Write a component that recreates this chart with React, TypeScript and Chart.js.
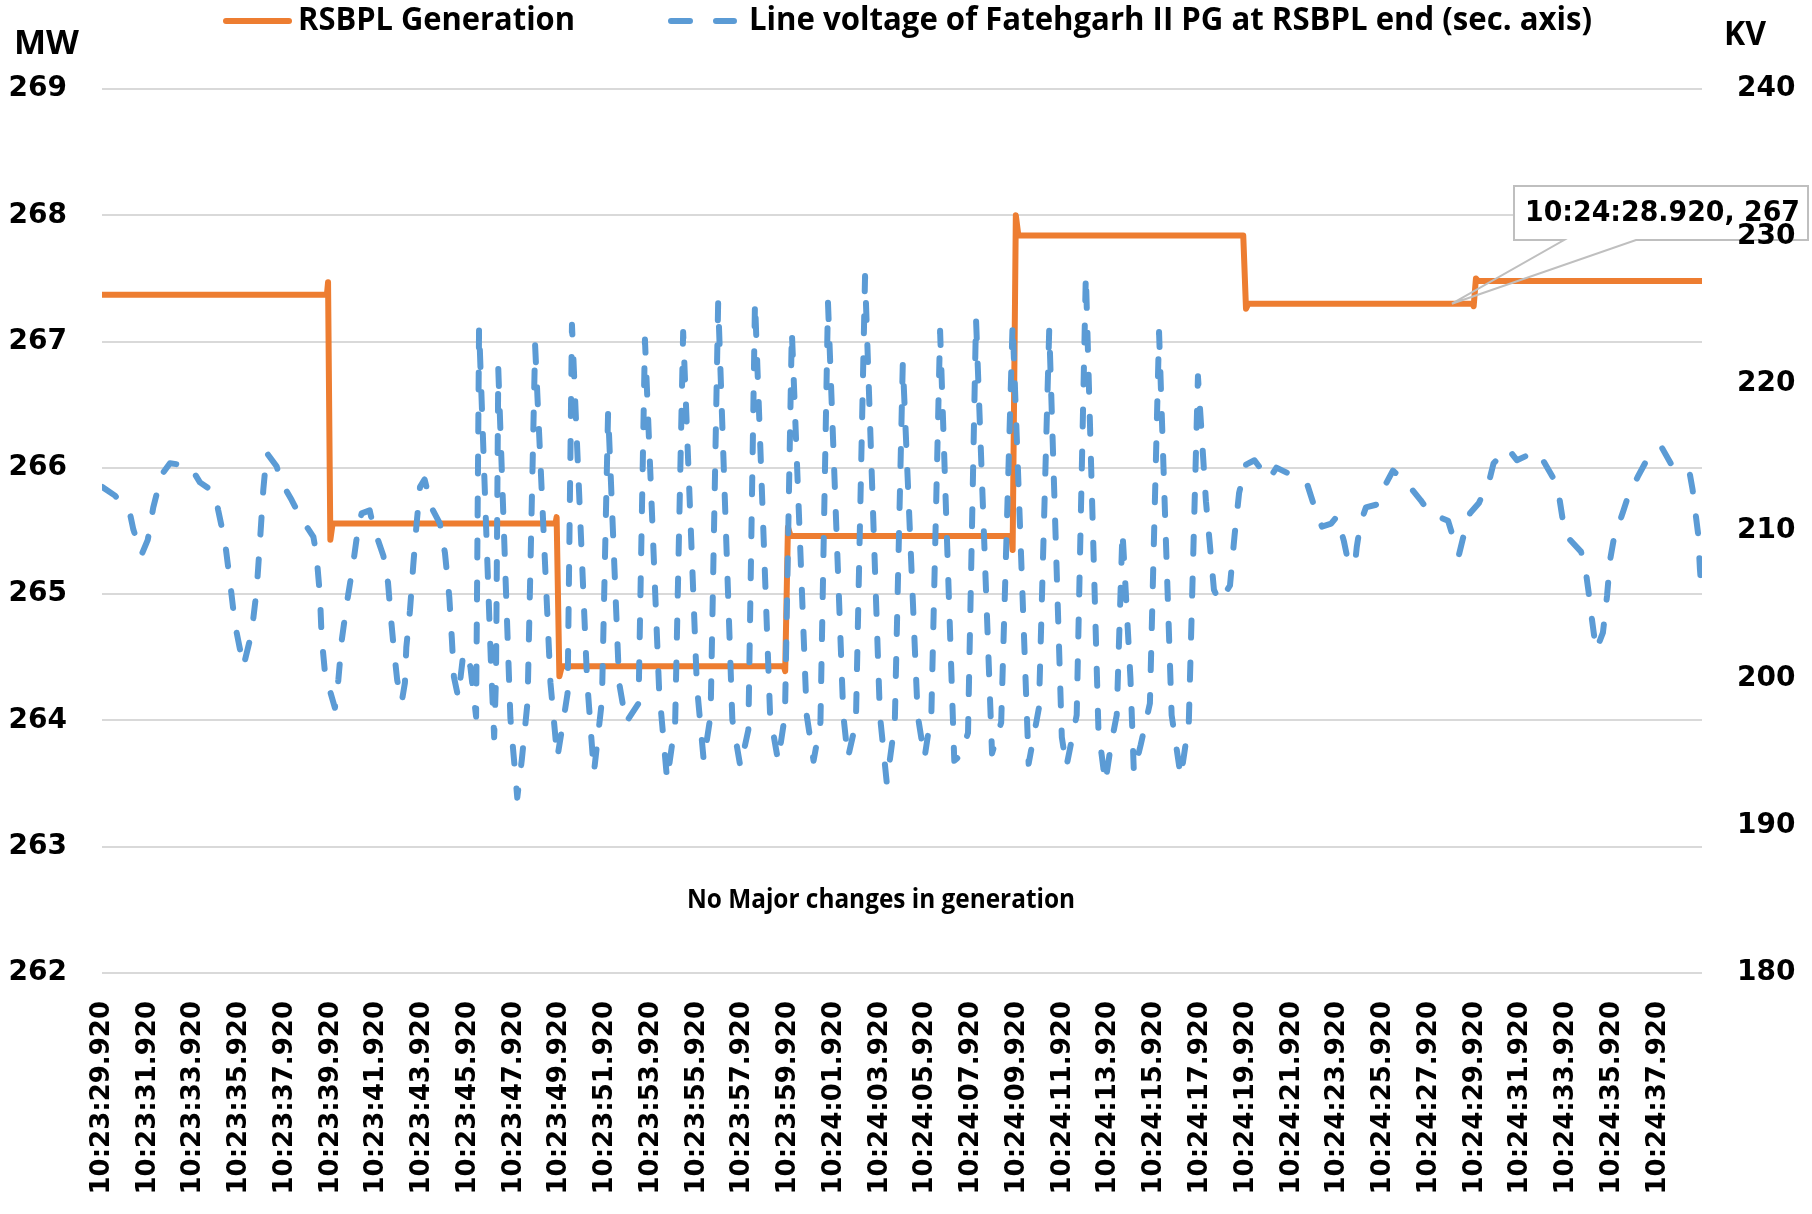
import React, { useEffect, useRef } from "react";
import { Chart, registerables } from "chart.js";

Chart.register(...registerables);

// ---------- data ----------
const xTickLabels = [
  "10:23:29.920", "10:23:31.920", "10:23:33.920", "10:23:35.920", "10:23:37.920",
  "10:23:39.920", "10:23:41.920", "10:23:43.920", "10:23:45.920", "10:23:47.920",
  "10:23:49.920", "10:23:51.920", "10:23:53.920", "10:23:55.920", "10:23:57.920",
  "10:23:59.920", "10:24:01.920", "10:24:03.920", "10:24:05.920", "10:24:07.920",
  "10:24:09.920", "10:24:11.920", "10:24:13.920", "10:24:15.920", "10:24:17.920",
  "10:24:19.920", "10:24:21.920", "10:24:23.920", "10:24:25.920", "10:24:27.920",
  "10:24:29.920", "10:24:31.920", "10:24:33.920", "10:24:35.920", "10:24:37.920",
];

// seconds after 10:23:29.920
const generationTimes = [
  0, 9.83, 9.88, 9.98, 10.08, 19.82, 19.87, 19.99, 20.1, 29.8, 29.86, 29.98, 30.1,
  39.75, 39.8, 39.94, 40.05, 49.88, 50.0, 50.1, 59.9, 59.95, 60.05, 60.15, 69.93,
];
const generationValues = [
  267.37, 267.37, 267.47, 265.43, 265.56, 265.56, 265.61, 264.35, 264.43, 264.43, 264.39, 265.53, 265.46,
  265.46, 265.35, 268.0, 267.84, 267.84, 267.26, 267.3, 267.3, 267.28, 267.5, 267.48, 267.48,
];

const voltageTimes = [
  0, 0.57, 1.22, 1.37, 1.73, 2.0, 2.24, 2.6, 2.97, 3.85, 4.28, 4.94, 5.08, 5.38, 5.6, 5.81, 6.18, 6.54, 6.76, 6.9,
  7.05, 7.2, 7.63, 7.85, 8.29, 8.65, 9.24, 9.38, 9.53, 9.6, 9.75, 10.18, 10.33, 10.48, 10.7, 10.98, 11.2, 11.35, 11.7, 11.86,
  12.3, 12.5, 12.6, 12.73, 12.9, 13.1, 13.24, 13.3, 13.46, 13.6, 13.75, 13.9, 14.1, 14.4, 14.77, 14.99, 15.18, 15.29, 15.38, 15.57,
  15.8, 16.1, 16.35, 16.48, 17.0, 17.14, 17.22, 17.32, 17.85, 18.15, 18.35, 18.6, 18.93, 19.6, 19.9, 20.2, 20.35, 20.54,
  21.2, 21.5, 21.85, 22.12, 22.6, 22.9, 23.45, 23.73, 24.35, 24.7, 25.05, 25.4, 26.0, 26.3, 26.6, 26.93,
  27.55, 27.9, 28.25, 28.54, 29.2, 29.55, 29.85, 30.15, 30.8, 31.1, 31.4, 31.73, 32.4, 32.6, 32.95, 33.35,
  34.0, 34.3, 34.65, 35.0, 35.65, 35.95, 36.25, 36.63, 37.25, 37.55, 37.85, 38.2, 38.9, 39.3, 39.8,
  40.5, 40.95, 41.4, 41.95, 42.15, 42.6, 43.0, 43.55, 43.85, 44.1, 44.35, 44.6, 44.95, 45.1, 45.4, 45.8, 46.2,
  46.75, 47.15, 47.5, 47.9, 48.25, 48.6, 48.85, 49.3, 49.5, 49.7, 50.0, 50.37, 51.0, 51.33, 52.27, 52.69,
  53.02, 53.32, 53.72, 53.98, 54.28, 54.44, 54.76, 54.84, 55.0, 55.24, 55.73, 55.94, 56.42, 57.0, 57.63, 58.04,
  58.83, 59.07, 59.31, 59.53, 59.79, 60.18, 60.66, 60.82, 61.45, 61.84, 62.66, 62.98, 63.54, 63.68, 63.94, 64.1,
  64.64, 64.82, 64.97, 65.12, 65.3, 65.6, 65.78, 65.91, 66.08, 66.48, 66.73, 67.13, 67.44, 68.16, 68.56, 69.36,
  69.52, 69.76, 69.84, 69.93,
];
const voltageValues = [
  213.0, 212.4, 211.2, 210.1, 208.4, 209.4, 211.6, 213.8, 214.6, 214.4, 213.3, 212.6, 211.4, 209.2, 206.5, 203.7, 200.8, 203.1, 206.0, 209.2,
  212.8, 215.3, 214.4, 213.3, 212.1, 211.0, 209.6, 208.3, 205.5, 202.8, 200.3, 198.0, 199.9, 202.6, 205.1, 207.8, 210.3, 211.2, 211.4, 210.3,
  208.3, 206.5, 204.6, 202.4, 199.9, 198.4, 199.7, 202.1, 204.6, 207.6, 210.5, 213.0, 213.5, 211.6, 210.5, 208.5, 205.5, 202.7, 200.1, 198.7,
  201.8, 200.8, 197.4, 223.8, 201.0, 196.0, 200.0, 221.0, 197.3, 191.9, 194.5, 198.4, 222.6, 199.7, 194.6, 197.5, 199.0, 224.0,
  199.9, 193.6, 198.5, 218.1, 199.7, 197.0, 198.3, 223.0, 199.2, 193.1, 197.0, 223.5, 199.5, 194.4, 197.5, 225.5,
  197.2, 194.0, 196.5, 225.6, 197.5, 194.4, 197.5, 223.6, 197.5, 194.4, 197.0, 225.5, 197.5, 194.6, 197.0, 227.3,
  197.5, 192.9, 197.0, 221.4, 197.5, 194.6, 197.7, 223.6, 194.4, 194.8, 196.3, 224.4, 194.9, 197.0, 224.1,
  194.2, 198.0, 223.7, 196.0, 194.0, 197.5, 227.4, 196.5, 192.9, 195.5, 197.5, 210.0, 200.0, 193.6, 195.5, 198.3, 223.5,
  197.5, 193.3, 197.0, 220.5, 212.0, 206.0, 205.2, 206.3, 209.7, 212.6, 214.5, 214.8, 213.5, 214.3, 213.6, 213.1,
  211.5, 210.3, 210.5, 211.0, 209.3, 208.1, 207.7, 208.9, 210.5, 211.6, 211.8, 212.7, 214.1, 213.3, 212.1, 211.2,
  210.7, 209.5, 208.4, 209.8, 211.2, 211.9, 213.6, 214.6, 215.6, 214.8, 215.4, 214.8, 213.3, 212.4, 209.8, 209.5,
  208.6, 207.6, 205.9, 204.0, 201.9, 203.1, 205.6, 208.0, 209.5, 211.3, 212.5, 213.7, 214.6, 215.7, 214.6, 214.2,
  212.8, 209.8, 207.4, 205.6,
];

const legendLabels = ["RSBPL Generation", "Line voltage of Fatehgarh II PG at RSBPL end (sec. axis)"];
const leftAxisTitle = "MW";
const rightAxisTitle = "KV";
const noteText = "No Major changes in generation";
const annotationTime = 59;
const annotationValue = 267.3;
const annotationText = "10:24:28.920, 267";

// ---------- styles ----------
const W = 1812;
const H = 1214;
const ORANGE = "#ED7D31";
const BLUE = "#5B9BD5";
const GRID = "#D9D9D9";
const NUM_FONT = "DejaVu Sans";
const TXT_FONT = "Open Sans";

function fitText(
  ctx: CanvasRenderingContext2D,
  text: string,
  x: number,
  y: number,
  font: string,
  width: number,
  color = "#000"
) {
  ctx.save();
  ctx.font = font;
  ctx.fillStyle = color;
  ctx.textAlign = "left";
  ctx.textBaseline = "middle";
  const w = ctx.measureText(text).width;
  ctx.translate(x, y);
  ctx.scale(width / w, 1);
  ctx.fillText(text, 0, 0);
  ctx.restore();
}

const overlayPlugin = {
  id: "overlay",
  afterDatasetsDraw(chart: any) {
    const ctx: CanvasRenderingContext2D = chart.ctx;
    const px = chart.scales.x.getPixelForValue(annotationTime);
    const py = chart.scales.y.getPixelForValue(annotationValue);
    const bx0 = 1514, bx1 = 1808, by0 = 186, by1 = 240, w0 = 1564, w1 = 1636;
    ctx.save();
    ctx.fillStyle = "#fff";
    ctx.fillRect(bx0, by0, bx1 - bx0, by1 - by0);
    ctx.beginPath();
    ctx.moveTo(w0, by1);
    ctx.lineTo(bx0, by1);
    ctx.lineTo(bx0, by0);
    ctx.lineTo(bx1, by0);
    ctx.lineTo(bx1, by1);
    ctx.lineTo(w1, by1);
    ctx.lineTo(px, py);
    ctx.closePath();
    ctx.strokeStyle = "#BFBFBF";
    ctx.lineWidth = 2;
    ctx.stroke();
    ctx.restore();
    fitText(ctx, annotationText, 1525, 214, `bold 28px "${NUM_FONT}"`, 275);
  },
  afterDraw(chart: any) {
    const ctx: CanvasRenderingContext2D = chart.ctx;
    // legend
    ctx.save();
    ctx.lineCap = "round";
    ctx.strokeStyle = ORANGE;
    ctx.lineWidth = 6;
    ctx.beginPath();
    ctx.moveTo(226, 21);
    ctx.lineTo(289, 21);
    ctx.stroke();
    ctx.strokeStyle = BLUE;
    ctx.beginPath();
    ctx.moveTo(671, 21);
    ctx.lineTo(690, 21);
    ctx.moveTo(716, 21);
    ctx.lineTo(734, 21);
    ctx.stroke();
    ctx.restore();
    fitText(ctx, legendLabels[0], 298, 21, `bold 33px "${TXT_FONT}"`, 277);
    fitText(ctx, legendLabels[1], 749, 21, `bold 33px "${TXT_FONT}"`, 843);
    // axis titles
    fitText(ctx, leftAxisTitle, 14, 44, `bold 34px "${TXT_FONT}"`, 65);
    fitText(ctx, rightAxisTitle, 1724, 35, `bold 34px "${TXT_FONT}"`, 42);
    // note
    fitText(ctx, noteText, 687, 901, `bold 26px "${TXT_FONT}"`, 388);
  },
};

export default function App() {
  const ref = useRef<HTMLCanvasElement>(null);

  useEffect(() => {
    const canvas = ref.current;
    if (!canvas) return;
    const tickFont = { family: NUM_FONT, weight: "bold" as const, size: 28 };
    const chart = new Chart(canvas, {
      type: "line",
      data: {
        datasets: [
          {
            label: legendLabels[1],
            data: voltageTimes.map((t, i) => ({ x: t, y: voltageValues[i] })),
            yAxisID: "y1",
            borderColor: BLUE,
            backgroundColor: BLUE,
            borderWidth: 6,
            borderDash: [17, 25],
            borderCapStyle: "round",
            borderJoinStyle: "round",
            pointRadius: 0,
            tension: 0,
            fill: false,
            order: 0,
          },
          {
            label: legendLabels[0],
            data: generationTimes.map((t, i) => ({ x: t, y: generationValues[i] })),
            yAxisID: "y",
            borderColor: ORANGE,
            backgroundColor: ORANGE,
            borderWidth: 6,
            borderCapStyle: "round",
            borderJoinStyle: "round",
            pointRadius: 0,
            tension: 0,
            fill: false,
            order: 1,
          },
        ],
      },
      options: {
        responsive: false,
        maintainAspectRatio: false,
        animation: false,
        layout: { padding: { top: 89, left: 0, right: 0, bottom: 0 } },
        plugins: { legend: { display: false }, tooltip: { enabled: false }, title: { display: false } },
        scales: {
          x: {
            type: "linear",
            min: 0,
            max: 69.93,
            grid: { display: false, drawTicks: false },
            border: { display: false },
            afterBuildTicks: (s: any) => {
              s.ticks = xTickLabels.map((_, i) => ({ value: i * 2 }));
            },
            afterFit: (s: any) => {
              s.height = 241;
            },
            ticks: {
              autoSkip: false,
              maxRotation: 90,
              minRotation: 90,
              padding: 28,
              color: "#000",
              font: { family: NUM_FONT, weight: "bold", size: 26 },
              callback: (v: any) => xTickLabels[Math.round(Number(v) / 2)] ?? "",
            },
          },
          y: {
            position: "left",
            min: 262,
            max: 269,
            grid: { color: GRID, lineWidth: 2, drawTicks: false },
            border: { display: false },
            afterFit: (s: any) => {
              s.width = 102;
            },
            ticks: { stepSize: 1, padding: 35, color: "#000", font: tickFont },
          },
          y1: {
            position: "right",
            min: 180,
            max: 240,
            grid: { display: false, drawTicks: false },
            border: { display: false },
            afterFit: (s: any) => {
              s.width = 110;
            },
            ticks: { stepSize: 10, padding: 35, color: "#000", font: tickFont, z: 1 },
          },
        },
      },
      plugins: [overlayPlugin],
    } as any);
    return () => chart.destroy();
  }, []);

  return (
    <canvas
      ref={ref}
      width={W}
      height={H}
      style={{ position: "fixed", left: 0, top: 0, width: W, height: H, display: "block" }}
    />
  );
}
